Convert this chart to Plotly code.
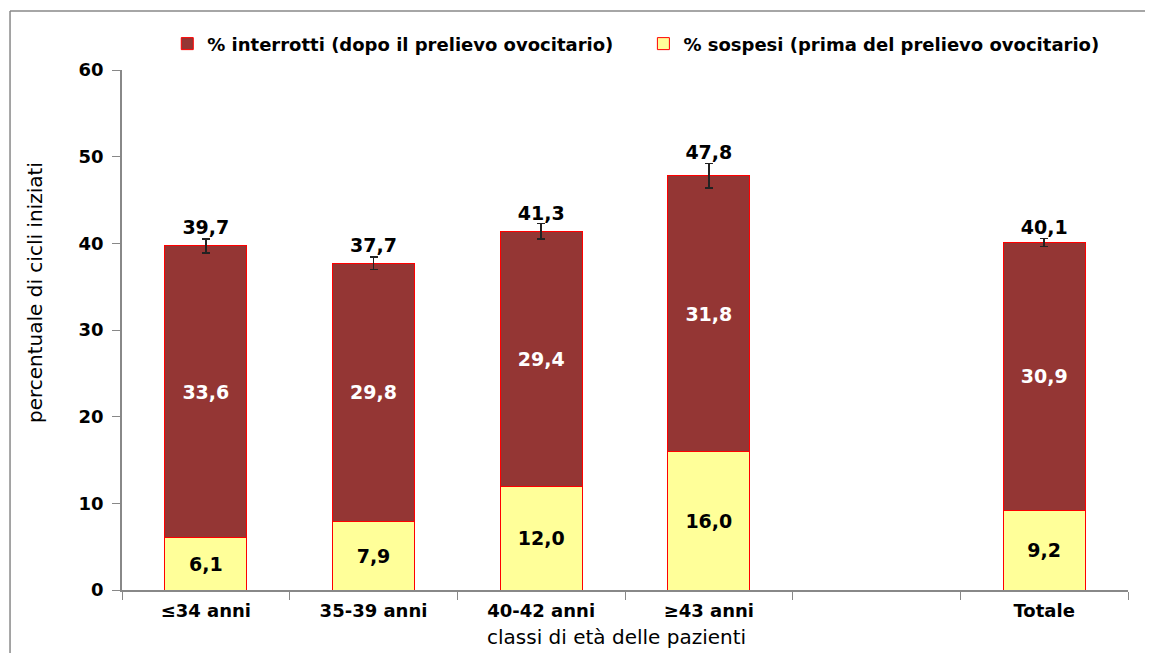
import plotly.graph_objects as go

categories = ["≤34 anni", "35-39 anni", "40-42 anni", "≥43 anni", " ", "Totale"]
sospesi = [6.1, 7.9, 12.0, 16.0, None, 9.2]
interrotti = [33.6, 29.8, 29.4, 31.8, None, 30.9]
totali = [39.7, 37.7, 41.3, 47.8, None, 40.1]
errori = [0.8, 0.7, 0.9, 1.4, None, 0.45]

name_int = "% interrotti (dopo il prelievo ovocitario)\u00a0\u00a0\u00a0\u00a0"
name_sos = "% sospesi (prima del prelievo ovocitario)"
x_title = "classi di età delle pazienti"
y_title = "percentuale di cicli iniziati"

FONT = "DejaVu Sans, Liberation Sans, Arial, sans-serif"

fig = go.Figure()
fig.add_trace(go.Bar(
    x=categories, y=sospesi, name=name_sos,
    marker=dict(color="#FFFF99", line=dict(color="#FF0000", width=1)),
    text=sospesi, texttemplate="%{y:.1f}", textposition="inside",
    insidetextanchor="middle", textangle=0, constraintext="none",
    insidetextfont=dict(family=FONT, size=19, color="black", weight="bold"),
    legendrank=2, hoverinfo="skip",
))
fig.add_trace(go.Bar(
    x=categories, y=interrotti, name=name_int,
    marker=dict(color="#943634", line=dict(color="#FF0000", width=1)),
    text=interrotti, texttemplate="%{y:.1f}", textposition="inside",
    insidetextanchor="middle", textangle=0, constraintext="none",
    insidetextfont=dict(family=FONT, size=19, color="white", weight="bold"),
    error_y=dict(type="data", array=errori, visible=True, color="#222222",
                 thickness=1.5, width=4),
    legendrank=1, hoverinfo="skip",
))
label_y = [None if t is None else t + e for t, e in zip(totali, errori)]
fig.add_trace(go.Scatter(
    x=categories, y=label_y, mode="text",
    text=[None if t is None else f"{t:.1f}".replace(".", ",") for t in totali],
    textposition="top center",
    textfont=dict(family=FONT, size=19, color="black", weight="bold"),
    showlegend=False, hoverinfo="skip", cliponaxis=False,
))

fig.update_layout(
    width=1153, height=653,
    margin=dict(l=114, r=33, t=62, b=71, autoexpand=False),
    paper_bgcolor="white", plot_bgcolor="white",
    barmode="stack", bargap=0.51,
    separators=",.",
    font=dict(family=FONT, color="black"),
    showlegend=True,
    legend=dict(orientation="h", x=0.045, xanchor="left",
                y=0.945, yref="container", yanchor="middle",
                font=dict(family=FONT, size=18, color="black", weight="bold"),
                traceorder="normal", itemwidth=30, bgcolor="rgba(0,0,0,0)"),
    xaxis=dict(
        type="category", categoryorder="array", categoryarray=categories,
        tickson="boundaries", ticks="outside", ticklen=8, tickcolor="#888888",
        showline=True, linecolor="#888888", linewidth=1.5, showgrid=False,
        tickfont=dict(family=FONT, size=18, color="black", weight="bold"),
        ticklabelstandoff=4,
    ),
    yaxis=dict(
        range=[0, 60], dtick=10, ticks="outside", ticklen=8, tickcolor="#888888",
        showline=True, linecolor="#888888", linewidth=1.5, showgrid=False,
        zeroline=False, ticklabelstandoff=5,
        tickfont=dict(family=FONT, size=18, color="black", weight="bold"),
    ),
    annotations=[
        dict(text=x_title, xref="paper", yref="paper", x=0.492, y=-0.0904,
             xanchor="center", yanchor="middle", showarrow=False,
             font=dict(family=FONT, size=20, color="black")),
        dict(text=y_title, xref="paper", yref="paper", x=-0.0865, y=0.573,
             xanchor="center", yanchor="middle", showarrow=False, textangle=-90,
             font=dict(family=FONT, size=20, color="black")),
    ],
    shapes=[
        dict(type="line", xref="paper", yref="paper",
             x0=-0.1113, x1=-0.1113, y0=-0.3, y1=1.1135,
             line=dict(color="#888888", width=1.5), layer="below"),
        dict(type="line", xref="paper", yref="paper",
             x0=-0.1113, x1=1.2, y0=1.1135, y1=1.1135,
             line=dict(color="#888888", width=1.5), layer="below"),
    ],
)

fig.write_html("out.html")
